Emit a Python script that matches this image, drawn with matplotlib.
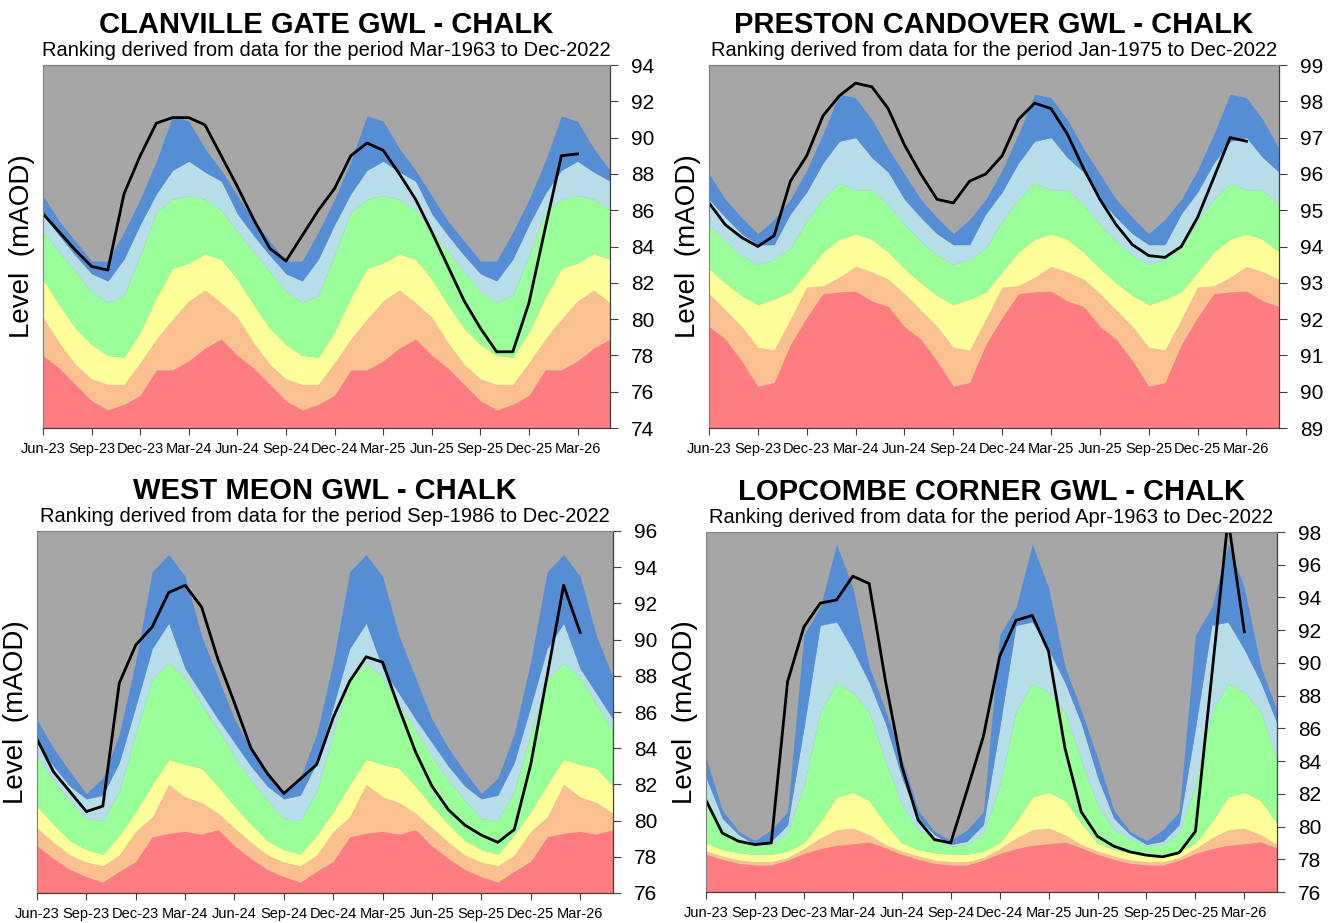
import numpy as np
import matplotlib.pyplot as plt

plt.rcParams['font.family'] = ['Liberation Sans', 'DejaVu Sans']

# months from Jun-23 to May-26
months = np.arange(36)
tick_pos = np.arange(0, 34, 3)
tick_labels = ['Jun-23', 'Sep-23', 'Dec-23', 'Mar-24', 'Jun-24', 'Sep-24',
               'Dec-24', 'Mar-25', 'Jun-25', 'Sep-25', 'Dec-25', 'Mar-26']

# band colours, lowest band first; grey sits above the top band
band_colors = ['#FF7C80', '#FAC090', '#FFFF99', '#99FF99', '#B7DEE8', '#558ED5']
above_color = '#A6A6A6'

# ---- Clanville Gate: band upper limits by calendar month (Jun..May)
cg_red = [78.0, 77.3, 76.4, 75.5, 75.0, 75.3, 75.8, 77.2, 77.2, 77.7, 78.4, 78.9]
cg_orange = [80.1, 78.7, 77.5, 76.7, 76.4, 76.4, 77.6, 78.9, 80.0, 81.0, 81.6, 80.9]
cg_yellow = [82.2, 80.8, 79.5, 78.6, 78.0, 77.9, 79.3, 81.2, 82.8, 83.1, 83.6, 83.3]
cg_green = [84.8, 83.7, 82.6, 81.5, 80.9, 81.3, 83.5, 85.9, 86.6, 86.8, 86.6, 86.0]
cg_lblue = [85.8, 84.6, 83.5, 82.5, 82.1, 83.3, 85.2, 86.9, 88.2, 88.7, 88.1, 87.6]
cg_blue = [86.8, 85.4, 84.3, 83.2, 83.2, 84.8, 86.6, 88.7, 91.2, 90.9, 89.4, 88.2]
cg_level = [85.8, 84.8, 83.8, 82.9, 82.7, 86.9, 89.0, 90.8, 91.1, 91.1, 90.7, 89.0,
            87.3, 85.5, 83.9, 83.2, 84.6, 86.0, 87.2, 89.0, 89.7, 89.3, 88.0, 86.6,
            84.8, 82.9, 81.0, 79.5, 78.2, 78.2, 80.9, 85.0, 89.0, 89.1]

# ---- Preston Candover
pc_red = [91.8, 91.45, 90.85, 90.15, 90.25, 91.3, 92.05, 92.7, 92.75, 92.77, 92.5, 92.35]
pc_orange = [92.7, 92.25, 91.8, 91.22, 91.15, 92.0, 92.88, 92.92, 93.15, 93.45, 93.3, 93.1]
pc_yellow = [93.4, 93.0, 92.65, 92.4, 92.55, 92.75, 93.3, 93.85, 94.2, 94.35, 94.2, 93.85]
pc_green = [94.6, 94.15, 93.75, 93.5, 93.65, 93.95, 94.7, 95.3, 95.75, 95.55, 95.55, 95.15]
pc_lblue = [95.3, 94.8, 94.35, 94.05, 94.05, 94.9, 95.5, 96.3, 96.9, 97.0, 96.45, 96.05]
pc_blue = [96.0, 95.3, 94.8, 94.35, 94.75, 95.3, 96.1, 97.1, 98.2, 98.1, 97.5, 96.7]
pc_level = [95.2, 94.6, 94.25, 94.0, 94.3, 95.8, 96.5, 97.6, 98.15, 98.5, 98.4, 97.8,
            96.8, 96.0, 95.3, 95.2, 95.8, 96.0, 96.5, 97.5, 97.95, 97.8, 97.1, 96.15,
            95.3, 94.6, 94.05, 93.75, 93.7, 94.0, 94.8, 95.9, 97.0, 96.9]

# ---- West Meon
wm_red = [78.6, 77.9, 77.3, 76.9, 76.6, 77.2, 77.75, 79.1, 79.3, 79.4, 79.25, 79.5]
wm_orange = [79.6, 78.8, 78.1, 77.7, 77.5, 78.1, 79.4, 80.2, 82.0, 81.3, 81.0, 80.4]
wm_yellow = [80.8, 79.8, 78.9, 78.4, 78.15, 79.2, 80.5, 82.0, 83.4, 83.1, 82.9, 81.9]
wm_green = [83.5, 82.2, 81.1, 80.1, 80.0, 81.6, 84.8, 87.8, 88.7, 87.9, 86.4, 85.0]
wm_lblue = [84.3, 83.0, 81.9, 81.2, 81.4, 83.2, 86.3, 89.5, 90.9, 88.4, 87.0, 85.6]
wm_blue = [85.6, 84.0, 82.7, 81.5, 82.35, 84.8, 88.8, 93.75, 94.7, 93.5, 90.2, 87.9]
wm_level = [84.5, 82.7, 81.6, 80.5, 80.8, 87.6, 89.7, 90.7, 92.6, 93.0, 91.8, 88.9,
            86.5, 84.0, 82.6, 81.5, 82.3, 83.1, 85.7, 87.7, 89.05, 88.75, 86.2, 83.8,
            81.9, 80.6, 79.75, 79.2, 78.8, 79.5, 83.1, 88.0, 93.0, 90.4]

# ---- Lopcombe Corner
lc_red = [78.3, 78.0, 77.75, 77.65, 77.65, 77.95, 78.35, 78.65, 78.85, 78.95, 79.05, 78.7]
lc_orange = [78.5, 78.2, 77.95, 77.85, 77.85, 78.1, 78.65, 79.3, 79.8, 79.9, 79.5, 78.9]
lc_yellow = [79.0, 78.6, 78.4, 78.3, 78.3, 78.5, 79.0, 80.3, 81.8, 82.1, 81.6, 80.2]
lc_green = [81.3, 79.8, 79.3, 78.8, 78.9, 79.6, 82.5, 87.0, 88.75, 88.2, 87.0, 84.0]
lc_lblue = [83.0, 80.5, 79.5, 78.9, 79.1, 80.1, 86.0, 92.3, 92.5, 90.8, 88.8, 86.3]
lc_blue = [84.2, 81.0, 79.7, 79.15, 79.8, 80.9, 91.7, 93.4, 97.25, 94.6, 89.8, 87.1]
lc_level = [81.6, 79.6, 79.1, 78.9, 79.0, 88.85, 92.2, 93.65, 93.85, 95.3, 94.85, 88.9,
            83.7, 80.4, 79.2, 79.0, 82.2, 85.5, 90.4, 92.6, 92.9, 90.7, 84.8, 80.9,
            79.4, 78.8, 78.45, 78.25, 78.15, 78.4, 79.7, 89.2, 98.8, 91.9]

panels = [
    ('CLANVILLE GATE GWL - CHALK', 'Mar-1963',
     [cg_red, cg_orange, cg_yellow, cg_green, cg_lblue, cg_blue], cg_level,
     (74, 94), np.arange(74, 95, 2), [43, 65, 610, 428]),
    ('PRESTON CANDOVER GWL - CHALK', 'Jan-1975',
     [pc_red, pc_orange, pc_yellow, pc_green, pc_lblue, pc_blue], pc_level,
     (89, 99), np.arange(89, 100, 1), [709, 65, 1279, 428]),
    ('WEST MEON GWL - CHALK', 'Sep-1986',
     [wm_red, wm_orange, wm_yellow, wm_green, wm_lblue, wm_blue], wm_level,
     (76, 96), np.arange(76, 97, 2), [37, 531, 613, 893]),
    ('LOPCOMBE CORNER GWL - CHALK', 'Apr-1963',
     [lc_red, lc_orange, lc_yellow, lc_green, lc_lblue, lc_blue], lc_level,
     (76, 98), np.arange(76, 99, 2), [706, 532, 1277, 892]),
]

W, H = 1332, 923
fig = plt.figure(figsize=(W / 100, H / 100), dpi=100)

for title, start, bands, level, ylim, yticks, box in panels:
    x0, y0, x1, y1 = box
    ax = fig.add_axes([x0 / W, 1 - y1 / H, (x1 - x0) / W, (y1 - y0) / H])
    ax.set_facecolor(above_color)

    # stacked ranking bands, each repeated for the three years shown
    lower = np.full(len(months), ylim[0] - 1.0)
    for limits, colour in zip(bands, band_colors):
        upper = np.tile(limits, 3)
        ax.fill_between(months, lower, upper, color=colour, lw=0)
        lower = upper

    ax.plot(months[:len(level)], level, color='black', lw=2.0)

    ax.set_xlim(0, 35)
    ax.set_ylim(*ylim)
    ax.set_xticks(tick_pos)
    ax.set_xticklabels(tick_labels, fontsize=10.5)
    ax.set_yticks(yticks)
    ax.yaxis.tick_right()
    ax.tick_params(axis='y', labelsize=15, length=6, width=0.8, pad=9,
                   colors='#404040', labelcolor='black')
    ax.tick_params(axis='x', length=5, width=0.8, pad=5,
                   colors='#404040', labelcolor='black')
    for side in ('left', 'top'):
        ax.spines[side].set_color('#7f7f7f')
        ax.spines[side].set_linewidth(0.8)
    for side in ('right', 'bottom'):
        ax.spines[side].set_color('#404040')
        ax.spines[side].set_linewidth(0.9)

    ax.yaxis.set_label_position('left')
    ax.set_ylabel('Level  (mAOD)', fontsize=20, labelpad=6)

    ax.text(0.5, 1.11, title, transform=ax.transAxes, ha='center', va='center',
            fontsize=21, fontweight='bold')
    ax.text(0.5, 1.04, 'Ranking derived from data for the period '
            + start + ' to Dec-2022', transform=ax.transAxes,
            ha='center', va='center', fontsize=14.5)

fig.savefig('out.png', dpi=100)
